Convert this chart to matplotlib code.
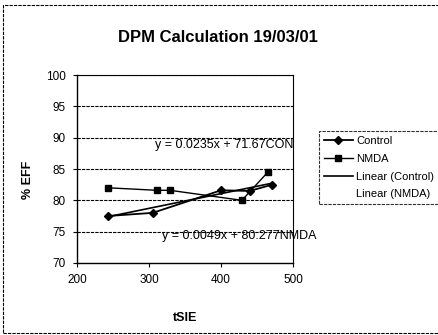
import numpy as np
import matplotlib.pyplot as plt
from matplotlib.lines import Line2D
from matplotlib.patches import Rectangle

plt.rcParams["font.family"] = ["Liberation Sans", "DejaVu Sans"]

# data
control_x = [243, 305, 400, 440, 471]
control_y = [77.5, 78.0, 81.6, 81.5, 82.5]
nmda_x = [243, 311, 329, 429, 465]
nmda_y = [82.0, 81.6, 81.6, 80.0, 84.5]

# trendline equations as printed on the chart
ctrl_fit = (0.0235, 71.67)
nmda_fit = (0.0049, 80.277)
ctrl_label = "y = 0.0235x + 71.67CON"
nmda_label = "y = 0.0049x + 80.277NMDA"

fig = plt.figure(figsize=(4.38, 3.35), dpi=100)
ax = fig.add_axes([0.176, 0.215, 0.493, 0.561])

# gridlines
for g in [75, 80, 85, 90, 95, 100]:
    ax.axhline(g, color="black", lw=0.8, ls=(0, (3, 1)), zorder=1)

ax.plot(control_x, control_y, color="black", lw=1.3, marker="D", ms=4.5, zorder=3)
ax.plot(nmda_x, nmda_y, color="black", lw=1.0, marker="s", ms=5, zorder=3)

xs = np.array([min(control_x), max(control_x)])
ax.plot(xs, ctrl_fit[0] * xs + ctrl_fit[1], color="black", lw=1.2, zorder=2)
xs2 = np.array([min(nmda_x), max(nmda_x)])
ax.plot(xs2, nmda_fit[0] * xs2 + nmda_fit[1], color="black", lw=0, zorder=2)

ax.text(500, 88.9, ctrl_label, fontsize=9, ha="right", va="center")
ax.text(318, 74.3, nmda_label, fontsize=9, ha="left", va="center", clip_on=False)

ax.set_xlim(200, 500)
ax.set_ylim(70, 100)
ax.set_xticks([200, 300, 400, 500])
ax.set_yticks([70, 75, 80, 85, 90, 95, 100])
ax.tick_params(labelsize=8.5, length=3, width=0.8, pad=5)
for s in ["top", "right"]:
    ax.spines[s].set_linestyle((0, (3, 1)))
    ax.spines[s].set_linewidth(0.8)
for s in ["left", "bottom"]:
    ax.spines[s].set_linewidth(1.0)

ax.set_xlabel("tSIE", fontsize=9, fontweight="bold")
ax.set_ylabel("% EFF", fontsize=9, fontweight="bold")
ax.xaxis.set_label_coords(0.5, -0.26)
ax.yaxis.set_label_coords(-0.2, 0.44)

fig.text(0.498, 0.887, "DPM Calculation 19/03/01", fontsize=12,
         fontweight="bold", ha="center", va="center")

handles = [
    Line2D([], [], color="black", lw=1.3, marker="D", ms=4.5),
    Line2D([], [], color="black", lw=1.0, marker="s", ms=5),
    Line2D([], [], color="black", lw=1.2),
    Line2D([], [], color="black", lw=0),
]
leg = fig.legend(handles, ["Control", "NMDA", "Linear (Control)", "Linear (NMDA)"],
                 loc="upper left", bbox_to_anchor=(0.728, 0.609), fontsize=8,
                 frameon=True, fancybox=False, edgecolor="black",
                 handlelength=2.6, handletextpad=0.3, borderpad=0.45,
                 labelspacing=0.7, borderaxespad=0)
leg.get_frame().set_linewidth(0.8)
leg.get_frame().set_linestyle((0, (3, 1)))

# outer chart border
fig.patches.append(Rectangle((0.007, 0.006), 1.2, 0.979, transform=fig.transFigure,
                             fill=False, ec="black", lw=0.8, ls=(0, (3, 1))))

fig.savefig("out.png", dpi=100)
